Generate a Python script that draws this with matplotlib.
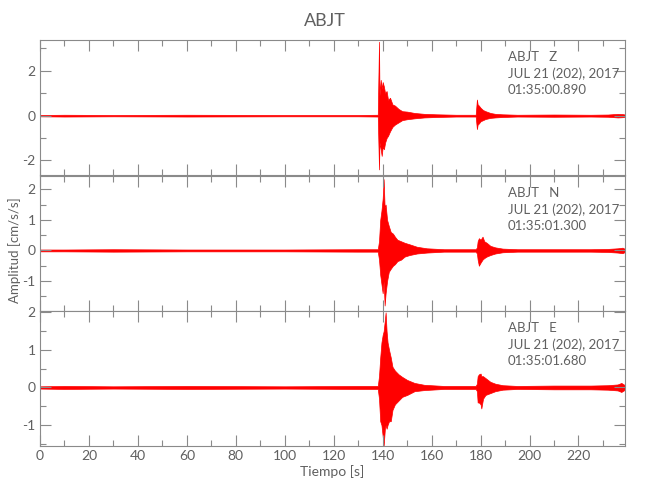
import matplotlib
matplotlib.use('Agg')
import matplotlib.pyplot as plt
from matplotlib.ticker import MultipleLocator

# --- DATA (envelope of each trace) ---
STATION = "ABJT"
DATE = "JUL 21 (202), 2017"
COMPONENTS = ["Z", "N", "E"]
START_TIMES = ["01:35:00.890", "01:35:01.300", "01:35:01.680"]

z_t = [0, 10, 30, 60, 100, 130, 138.0, 138.5, 138.7, 139.2, 139.6, 140.0, 140.5, 141.0, 141.6,
       142.2, 143.0, 144.0, 145.0, 146.5, 148, 150, 153, 157, 162, 170, 178.0, 178.5, 178.8,
       179.3, 180.0, 181, 182, 184, 186, 189, 195, 210, 225, 232, 236, 238, 239]
z_up = [0.03, 0.04, 0.03, 0.04, 0.03, 0.03, 0.04, 3.3, 0.9, 1.6, 1.2, 1.5, 1.3, 1.0, 1.1,
        0.7, 0.8, 0.5, 0.45, 0.3, 0.2, 0.18, 0.12, 0.08, 0.06, 0.04, 0.04, 0.72, 0.5,
        0.45, 0.35, 0.25, 0.2, 0.12, 0.08, 0.06, 0.04, 0.05, 0.04, 0.05, 0.08, 0.07, 0.05]
z_lo = [-0.03, -0.04, -0.03, -0.04, -0.03, -0.03, -0.04, -2.4, -1.2, -1.5, -1.8, -1.4, -1.5, -1.2, -1.0,
        -0.9, -0.7, -0.5, -0.4, -0.3, -0.2, -0.16, -0.12, -0.08, -0.06, -0.04, -0.04, -0.6, -0.4,
        -0.35, -0.25, -0.2, -0.15, -0.1, -0.08, -0.06, -0.04, -0.05, -0.04, -0.05, -0.08, -0.07, -0.05]

n_t = [0, 10, 30, 60, 100, 130, 138.0, 138.5, 139.0, 139.5, 140.0, 140.4, 140.8, 141.2, 141.8,
       142.5, 143.3, 144.2, 145.0, 146.0, 147.5, 149, 151, 154, 158, 165, 178.0, 178.5, 178.8,
       179.3, 180.0, 180.8, 181.5, 182.5, 184, 186, 189, 195, 210, 225, 232, 236, 238, 239]
n_up = [0.03, 0.03, 0.04, 0.03, 0.03, 0.04, 0.04, 0.3, 1.0, 1.3, 1.7, 2.33, 1.4, 1.5, 1.0,
        0.8, 0.6, 0.55, 0.45, 0.35, 0.3, 0.25, 0.2, 0.12, 0.07, 0.04, 0.04, 0.1, 0.3,
        0.4, 0.35, 0.45, 0.3, 0.25, 0.15, 0.1, 0.06, 0.04, 0.04, 0.04, 0.05, 0.07, 0.09, 0.05]
n_lo = [-0.03, -0.03, -0.04, -0.03, -0.03, -0.04, -0.04, -0.3, -0.8, -1.1, -1.4, -1.0, -1.8, -1.4, -1.0,
        -0.7, -0.6, -0.5, -0.45, -0.35, -0.3, -0.2, -0.15, -0.1, -0.07, -0.04, -0.04, -0.1, -0.3,
        -0.5, -0.4, -0.3, -0.25, -0.2, -0.15, -0.1, -0.06, -0.04, -0.04, -0.04, -0.05, -0.07, -0.09, -0.05]

e_t = [0, 10, 30, 60, 100, 130, 138.0, 138.5, 139.0, 139.5, 140.0, 140.4, 140.9, 141.2, 141.6,
       142.0, 142.6, 143.3, 144.0, 145.0, 146.5, 148, 150, 153, 157, 165, 178.0, 178.5, 178.8,
       179.3, 180.0, 180.3, 181, 182, 184, 186, 189, 195, 210, 225, 232, 236, 237.5, 239]
e_up = [0.03, 0.04, 0.03, 0.04, 0.03, 0.04, 0.04, 0.3, 0.8, 1.2, 1.4, 1.5, 1.8, 2.0, 1.5,
        1.2, 1.0, 0.8, 0.55, 0.45, 0.35, 0.28, 0.2, 0.12, 0.07, 0.04, 0.04, 0.1, 0.3,
        0.35, 0.37, 0.3, 0.3, 0.25, 0.15, 0.1, 0.06, 0.04, 0.05, 0.05, 0.06, 0.08, 0.12, 0.06]
e_lo = [-0.03, -0.04, -0.03, -0.04, -0.03, -0.04, -0.04, -0.3, -0.9, -1.0, -1.3, -1.55, -1.1, -1.0, -1.1,
        -1.0, -0.9, -0.9, -0.6, -0.45, -0.35, -0.25, -0.2, -0.1, -0.07, -0.04, -0.04, -0.1, -0.4,
        -0.4, -0.45, -0.56, -0.3, -0.2, -0.15, -0.1, -0.06, -0.04, -0.05, -0.05, -0.06, -0.08, -0.12, -0.06]

traces = [(z_t, z_up, z_lo), (n_t, n_up, n_lo), (e_t, e_up, e_lo)]

# --- LAYOUT ---
YLIMS = [(-2.65, 3.4), (-1.98, 2.45), (-1.56, 2.05)]
YMINOR = [1, 0.5, 0.5]
YMAJOR = [2, 1, 1]
GRAY = '#8a8a8a'
TXT = '#606060'
plt.rcParams['font.family'] = ['Lato', 'DejaVu Sans']
plt.rcParams['axes.unicode_minus'] = False

fig = plt.figure(figsize=(6.5, 5), dpi=100)
left, width, h = 40 / 650, 585 / 650, 135.5 / 500
bottoms = [1 - 175 / 500, 1 - 311 / 500, 1 - 446 / 500]

axes = []
for i, (t, up, lo) in enumerate(traces):
    ax = fig.add_axes([left, bottoms[i], width, h])
    ax.fill_between(t, lo, up, color='#ff0000', lw=0.5)
    ax.set_xlim(0, 239)
    ax.set_ylim(*YLIMS[i])
    ax.xaxis.set_major_locator(MultipleLocator(20))
    ax.xaxis.set_minor_locator(MultipleLocator(10))
    ax.yaxis.set_major_locator(MultipleLocator(YMAJOR[i]))
    ax.yaxis.set_minor_locator(MultipleLocator(YMINOR[i]))
    ax.tick_params(which='both', direction='in', top=True, right=True, color=GRAY,
                   labelcolor=TXT, labelsize=10, width=0.8, pad=3)
    ax.tick_params(which='major', length=8)
    ax.tick_params(which='minor', length=4)
    for s in ax.spines.values():
        s.set_color(GRAY)
        s.set_linewidth(0.8)
    if i < 2:
        ax.tick_params(labelbottom=False)
    # station / date / start time block
    ax.text(0.8, 0.87, f"{STATION}   {COMPONENTS[i]}", transform=ax.transAxes,
            color=TXT, fontsize=9.5, va='center')
    ax.text(0.8, 0.75, DATE, transform=ax.transAxes, color=TXT, fontsize=9.5, va='center')
    ax.text(0.8, 0.63, START_TIMES[i], transform=ax.transAxes, color=TXT, fontsize=9.5, va='center')
    axes.append(ax)

fig.text(0.5, 0.958, STATION, ha='center', va='center', color=TXT, fontsize=13)
axes[2].set_xlabel("Tiempo [s]", color=TXT, fontsize=10, labelpad=2)
fig.text(0.023, 0.5, "Amplitud [cm/s/s]", rotation=90, ha='center', va='center',
         color=TXT, fontsize=9.5)

fig.savefig('out.png', dpi=100)
